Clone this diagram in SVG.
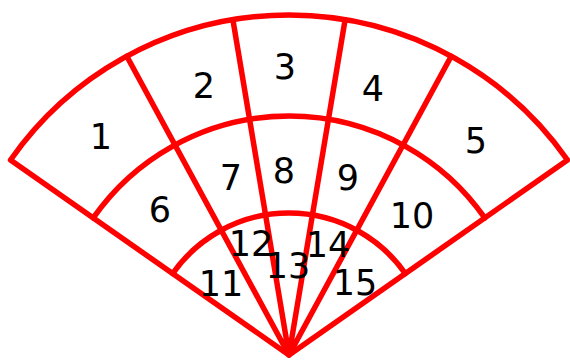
<svg xmlns="http://www.w3.org/2000/svg" width="570" height="360" viewBox="0 0 570 360">
<style>
.ln{fill:none;stroke:#ff0000;stroke-width:5.5;stroke-linejoin:round;stroke-linecap:round}
.lb{font-family:"DejaVu Sans","Noto Sans",sans-serif;font-size:35px;fill:#000;text-anchor:middle}
</style>
<rect width="570" height="360" fill="#fff"/>
<g id="connectors">
<path class="ln" d="M289,355 L10.5,160 A340,340 0 0 1 567.5,160 Z"/>
<path class="ln" d="M289,355 L126.8,56.2 M289,355 L232.9,19.7 M289,355 L345.1,19.7 M289,355 L451.2,56.2"/>
<path class="ln" d="M93.2,217.9 A239,239 0 0 1 484.8,217.9"/>
<path class="ln" d="M172.7,273.5 A142,142 0 0 1 405.3,273.5"/>
</g>
<g id="c1"><text class="lb" x="101" y="149">1</text></g>
<g id="c2"><text class="lb" x="204" y="98">2</text></g>
<g id="c3"><text class="lb" x="285" y="79">3</text></g>
<g id="c4"><text class="lb" x="373" y="101">4</text></g>
<g id="c5"><text class="lb" x="476" y="153">5</text></g>
<g id="c6"><text class="lb" x="160" y="222">6</text></g>
<g id="c7"><text class="lb" x="231" y="190">7</text></g>
<g id="c8"><text class="lb" x="284" y="183">8</text></g>
<g id="c9"><text class="lb" x="348" y="190">9</text></g>
<g id="c10"><text class="lb" x="412" y="228">10</text></g>
<g id="c11"><text class="lb" x="221" y="296">11</text></g>
<g id="c12"><text class="lb" x="251" y="256">12</text></g>
<g id="c13"><text class="lb" x="288" y="278">13</text></g>
<g id="c14"><text class="lb" x="328" y="257">14</text></g>
<g id="c15"><text class="lb" x="355" y="295">15</text></g>
</svg>
